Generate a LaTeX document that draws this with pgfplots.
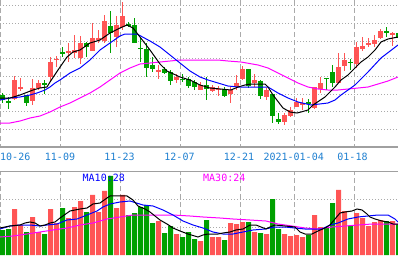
\documentclass[border=0pt]{standalone}
\usepackage{pgfplots}
\pgfplotsset{compat=1.18}
\usepackage{pgfplotstable}
\usepackage{fontspec}
\setmonofont{DejaVu Sans Mono}
\definecolor{cred}{HTML}{FF5555}
\definecolor{cgreen}{HTML}{00A000}
\definecolor{gcol}{HTML}{AAAAAA}
\definecolor{bcol}{HTML}{A0A0A0}
\definecolor{datecol}{HTML}{1E7FD0}
\definecolor{maten}{HTML}{0000FF}
\definecolor{mathirty}{HTML}{FF00FF}

% candles: i = index, hi/lo = wick ends, bt/bb = body ends (screen rows, top panel), v = volume
\pgfplotstableread{
i hi lo bt bb v
2 76 100 80 99.3 46
3 78 90.7 87.2 88.4 30
5 79 105 88 100.7 38
6 80 90 83 88 23
8 56.7 81.7 61.7 76.7 46
9 56 66.7 58.8 60 32
11 43.3 61.7 51 52.7 37
12 35 58.3 50 53.3 48
13 36 64 42.7 58.3 54
15 23.3 51 37.7 50.7 60
16 30 43.3 38.3 40 43
17 15 43.3 20.7 40.7 64
19 16 46.7 25 36.7 47
20 1.7 30 15.7 27.3 60
26 65 79 70 71.3 34
29 74 82.7 76.7 80 21
33 82 90 85 90 14
35 85 92 87.3 90.7 18
36 86 95.7 88.8 90 18
38 87.3 102.7 90 94.3 32
39 75 90 83.3 87.3 31
40 66 80 69 79 33
42 74 87.3 80 83.3 23
44 88.3 100 90 96.7 21
47 113.3 125 115 121.7 21
48 107.3 116.7 110 115.7 19
49 98.3 107 102 106.7 20
50 98.3 110 103.3 105 18
52 87.3 109.3 87.3 108.3 40
53 77.3 92.7 82.7 89.3 28
56 53.3 83.3 66.7 83.3 65
57 53.3 70.7 60 65.7 44
59 41.7 68.3 46.7 64.3 42
60 36.7 50.7 46 49.3 37
61 38.3 46.7 42.7 44.3 29
62 35 46.7 40 44 33
63 29.3 39.3 31 38.3 35
65 31.7 45.7 33.3 35 34
}\upc

\pgfplotstableread{
i hi lo bt bb v
0 93 103 95 100 25
1 97 109 101.2 102.4 26
4 95 106 95 102.7 23
7 80 94.3 83.3 85 21
10 46.7 57.3 52.2 53.4 47
14 41.7 56.7 42.7 47.3 43
18 10.7 52.7 26 33.3 79
21 22 27 24 25.5 40
22 18.3 43.3 25 43.3 42
23 38.3 61.7 47.8 49 48
24 43.3 76.7 49.3 67.7 50
25 56.7 71.7 65 69 32
27 66.7 74 68.7 73.3 22
28 70 85 72 80.7 29
30 74 82.3 78.5 79.7 18
31 76.7 88 79.3 86 23
32 80 90 81.7 87.3 16
34 76.7 100 85 89.3 35
37 87.3 96.7 89.3 95.7 15
41 69 88.3 69 85.7 33
43 80 99 81 95.7 22
45 94 122.7 94 115.7 56
46 113.3 124 119 121.7 26
51 99.3 112.7 102.1 103.3 20
54 77.7 90 77.7 79 28
55 65 86.7 71.7 82.7 52
58 59.3 70 61.7 62.9 29
64 27.3 36.7 31.1 32.3 34
66 30 40 33.3 38.3 31
}\downc

\pgfplotsset{candle/.style={only marks, mark=*, mark size=0pt, mark options={draw=none, fill=none},
  error bars/.cd, y dir=both, y explicit, error mark=none}}

\begin{document}
\begin{tikzpicture}
\ttfamily
% ---------- top panel: candles ----------
\begin{axis}[
  at={(0pt,108pt)}, anchor=south west, scale only axis,
  width=398pt, height=147pt,
  xmin=0, xmax=398, ymin=0, ymax=147, y dir=reverse,
  axis line style={draw=none}, tick style={draw=none},
  xticklabels={}, yticklabels={},
  xtick={0.5,60.5,120.5,180.5,240.5,294.5,354.5},
  ytick={5.7,23.3,41,58.7,76.3,94,111.7,129.3},
  xmajorgrids, ymajorgrids,
  x grid style={gcol, dash pattern=on 5pt off 3pt, line width=1pt},
  y grid style={gcol, dash pattern=on 1pt off 2pt, line width=1pt},
]
% wicks
\addplot[candle, error bar style={draw=cred, line width=1pt}]
  table[x expr=6*\thisrow{i}+2.5, y expr=(\thisrow{hi}+\thisrow{lo})/2, y error expr=(\thisrow{lo}-\thisrow{hi})/2] {\upc};
\addplot[candle, error bar style={draw=cgreen, line width=1pt}]
  table[x expr=6*\thisrow{i}+2.5, y expr=(\thisrow{hi}+\thisrow{lo})/2, y error expr=(\thisrow{lo}-\thisrow{hi})/2] {\downc};
% bodies
\addplot[candle, error bar style={draw=cred, line width=5pt}]
  table[x expr=6*\thisrow{i}+2.5, y expr=(\thisrow{bt}+\thisrow{bb})/2, y error expr=(\thisrow{bb}-\thisrow{bt})/2] {\upc};
\addplot[candle, error bar style={draw=cgreen, line width=5pt}]
  table[x expr=6*\thisrow{i}+2.5, y expr=(\thisrow{bt}+\thisrow{bb})/2, y error expr=(\thisrow{bb}-\thisrow{bt})/2] {\downc};
% moving averages
\addplot[mathirty, line width=1pt] coordinates {(0,123)(10,123)(20,121)(30,118)(40,116)(50,112)(60,107)(70,103)(80,98)(90,93)(100,87)(110,80)(120,73)(130,68)(140,64)(150,63)(160,62)(170,61)(180,60)(190,60)(200,60)(218,60)(228,61)(241,62)(258,65)(268,68)(278,73)(288,78)(298,83)(308,87)(318,89)(328,90)(338,90)(348,89)(358,88)(368,87)(378,84)(388,81)(398,77)};
\addplot[maten, line width=1pt] coordinates {(0,100)(10,98)(20,97)(30,95)(37,93)(45,90)(50,87)(55,83)(60,80)(70,73)(80,68)(90,60)(100,50)(110,43)(120,36)(125,34)(137,34)(150,41)(160,47)(170,55)(180,63)(190,71)(200,77)(208,80)(218,83)(228,86)(238,87)(248,87)(258,87)(268,87)(278,93)(288,98)(298,102)(311,105)(328,103)(335,100)(341,95)(355,85)(368,72)(381,58)(398,45)};
\addplot[black, line width=1pt] coordinates {(0,98)(10,98)(20,95)(33,90)(40,88)(47,87)(50,82)(58,70)(67,57)(73,52)(80,50)(90,43)(100,40)(110,33)(120,28)(127,25)(133,28)(140,37)(150,50)(160,64)(167,71)(180,77)(190,80)(200,85)(210,88)(231,90)(238,87)(245,85)(251,84)(265,84)(268,87)(273,95)(283,108)(290,112)(297,113)(301,112)(308,110)(313,105)(325,97)(335,87)(341,80)(348,75)(355,68)(361,62)(368,57)(375,50)(381,42)(388,39)(398,37)};
\end{axis}

% ---------- bottom panel: volume ----------
\begin{axis}[
  at={(0pt,0pt)}, anchor=south west, scale only axis,
  width=398pt, height=83pt,
  xmin=0, xmax=398, ymin=0, ymax=83,
  axis line style={draw=none}, tick style={draw=none},
  xticklabels={}, yticklabels={},
  xtick={0.5,60.5,120.5,180.5,240.5,294.5,354.5},
  ytick={28,56},
  xmajorgrids, ymajorgrids,
  x grid style={gcol, dash pattern=on 5pt off 3pt, line width=1pt},
  y grid style={gcol, dash pattern=on 1pt off 2pt, line width=1pt},
]
\addplot[ybar, bar width=5pt, bar shift=0pt, fill=cred, draw=none]
  table[x expr=6*\thisrow{i}+2.5, y=v] {\upc};
\addplot[ybar, bar width=5pt, bar shift=0pt, fill=cgreen, draw=none]
  table[x expr=6*\thisrow{i}+2.5, y=v] {\downc};
\addplot[mathirty, line width=1pt] coordinates {(0,18)(13,19)(27,21)(40,23)(53,25)(67,27)(80,30)(93,32)(107,36)(120,38)(133,40)(153,40)(173,40)(190,39)(203,38)(220,37)(233,36)(250,35)(266,34)(278,31)(292,29)(305,27)(318,26)(332,28)(345,29)(358,30)(372,31)(385,31)(398,31)};
\addplot[maten, line width=1pt] coordinates {(0,26)(10,29)(20,30)(30,30)(40,29)(47,30)(57,31)(67,35)(77,36)(87,40)(97,44)(103,48)(110,51)(120,53)(130,54)(143,50)(153,49)(163,45)(173,40)(183,34)(193,30)(203,27)(213,23)(223,21)(233,21)(243,23)(253,25)(265,26)(275,28)(285,28)(295,27)(305,26)(315,26)(322,26)(330,30)(338,32)(348,36)(358,38)(368,39)(378,40)(388,40)(395,36)(398,33)};
\addplot[black, line width=1pt] coordinates {(0,27)(10,29)(20,30)(25,32)(30,33)(35,32)(40,29)(45,30)(50,32)(55,33)(60,37)(70,44)(80,46)(87,47)(93,51)(100,52)(107,57)(110,59)(120,59)(127,59)(133,55)(138,49)(145,46)(150,43)(155,39)(160,35)(167,31)(173,27)(180,24)(188,21)(198,18)(203,20)(208,21)(218,21)(223,22)(230,23)(236,25)(243,26)(250,30)(256,30)(261,28)(266,26)(270,28)(275,30)(285,29)(295,28)(300,23)(305,21)(312,21)(318,24)(325,27)(330,30)(335,36)(340,42)(345,43)(352,44)(357,46)(362,45)(367,41)(370,38)(375,36)(382,34)(388,33)(393,31)(398,31)};
\end{axis}

% separators
\draw[bcol, line width=1.5pt] (0pt,108pt) -- (398pt,108pt);
\draw[bcol, line width=1.5pt] (0pt,83.3pt) -- (398pt,83.3pt);

% date labels
\begin{scope}[every node/.style={font=\ttfamily\fontsize{10}{12}\selectfont, text=datecol, inner sep=0pt}]
\node[anchor=base west] at (0pt,95pt) {10-26};
\node[anchor=base] at (60pt,95pt) {11-09};
\node[anchor=base] at (119.5pt,95pt) {11-23};
\node[anchor=base] at (179.5pt,95pt) {12-07};
\node[anchor=base] at (239pt,95pt) {12-21};
\node[anchor=base] at (293.7pt,95pt) {2021-01-04};
\node[anchor=base] at (352.5pt,95pt) {01-18};
\end{scope}
\node[anchor=base west, inner sep=0pt, font=\ttfamily\fontsize{10}{12}\selectfont, text=maten] at (82.5pt,74pt) {MA10:28};
\node[anchor=base west, inner sep=0pt, font=\ttfamily\fontsize{10}{12}\selectfont, text=mathirty] at (203pt,74pt) {MA30:24};

\pgfresetboundingbox
\path[use as bounding box] (0pt,0pt) rectangle (398pt,255pt);
\end{tikzpicture}
\end{document}
